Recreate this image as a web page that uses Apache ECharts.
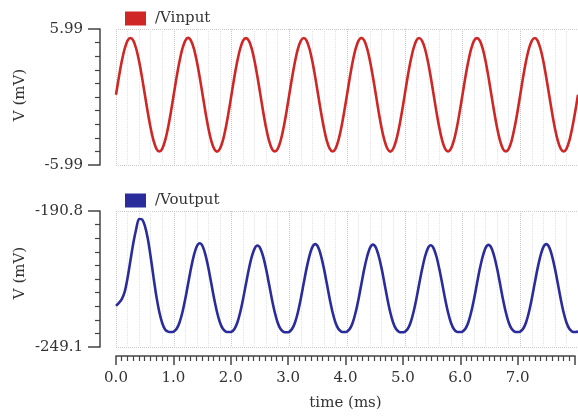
<!DOCTYPE html>
<html>
<head>
<meta charset="utf-8">
<script src="https://cdn.jsdelivr.net/npm/echarts@6/dist/echarts.min.js"></script>
<style>
html,body{margin:0;padding:0;background:#fff;}
#chart{width:578px;height:416px;}
</style>
</head>
<body>
<div id="chart"></div>
<script>
// time samples (ms)
var time = [
0,0.05,0.1,0.15,0.2,0.25,0.3,0.35,0.4,0.45,0.5,0.55,0.6,0.65,0.7,0.75,0.8,0.85,0.9,0.95,
1,1.05,1.1,1.15,1.2,1.25,1.3,1.35,1.4,1.45,1.5,1.55,1.6,1.65,1.7,1.75,1.8,1.85,1.9,1.95,
2,2.05,2.1,2.15,2.2,2.25,2.3,2.35,2.4,2.45,2.5,2.55,2.6,2.65,2.7,2.75,2.8,2.85,2.9,2.95,
3,3.05,3.1,3.15,3.2,3.25,3.3,3.35,3.4,3.45,3.5,3.55,3.6,3.65,3.7,3.75,3.8,3.85,3.9,3.95,
4,4.05,4.1,4.15,4.2,4.25,4.3,4.35,4.4,4.45,4.5,4.55,4.6,4.65,4.7,4.75,4.8,4.85,4.9,4.95,
5,5.05,5.1,5.15,5.2,5.25,5.3,5.35,5.4,5.45,5.5,5.55,5.6,5.65,5.7,5.75,5.8,5.85,5.9,5.95,
6,6.05,6.1,6.15,6.2,6.25,6.3,6.35,6.4,6.45,6.5,6.55,6.6,6.65,6.7,6.75,6.8,6.85,6.9,6.95,
7,7.05,7.1,7.15,7.2,7.25,7.3,7.35,7.4,7.45,7.5,7.55,7.6,7.65,7.7,7.75,7.8,7.85,7.9,7.95,
8
];

// /Vinput (mV)
var vinput = [
0.2,1.75,3.14,4.25,4.96,5.2,4.96,4.25,3.14,1.75,0.2,-1.35,-2.74,-3.85,-4.56,-4.8,-4.56,-3.85,-2.74,-1.35,
0.22,1.77,3.15,4.26,4.97,5.21,4.95,4.24,3.12,1.73,0.19,-1.36,-2.75,-3.86,-4.57,-4.81,-4.55,-3.84,-2.73,-1.34,
0.21,1.76,3.14,4.25,4.96,5.19,4.96,4.26,3.15,1.76,0.21,-1.34,-2.74,-3.85,-4.56,-4.79,-4.56,-3.86,-2.75,-1.36,
0.2,1.74,3.13,4.24,4.95,5.2,4.97,4.25,3.14,1.75,0.2,-1.35,-2.73,-3.84,-4.55,-4.8,-4.57,-3.85,-2.74,-1.35,
0.19,1.75,3.15,4.26,4.96,5.21,4.96,4.24,3.13,1.74,0.2,-1.36,-2.75,-3.85,-4.56,-4.81,-4.56,-3.84,-2.73,-1.34,
0.21,1.76,3.14,4.25,4.97,5.2,4.95,4.25,3.14,1.76,0.21,-1.34,-2.74,-3.86,-4.57,-4.8,-4.55,-3.85,-2.75,-1.35,
0.2,1.75,3.13,4.24,4.96,5.19,4.96,4.26,3.15,1.75,0.19,-1.35,-2.74,-3.85,-4.56,-4.79,-4.56,-3.86,-2.74,-1.36,
0.2,1.76,3.15,4.25,4.95,5.2,4.97,4.25,3.14,1.74,0.2,-1.35,-2.75,-3.84,-4.55,-4.8,-4.57,-3.85,-2.73,-1.35,
0.2
];

// /Voutput (mV)
var voutput = [
-231.5,-230.2,-228.6,-225.5,-219.5,-212.0,-204.5,-198.5,-194.2,-194.4,-197.2,-202.6,-210.4,-219.2,-227.5,-234.1,-238.8,-241.6,-242.5,-242.7,
-242.5,-241.3,-238.6,-234.2,-228.4,-221.8,-215.2,-209.7,-205.9,-204.6,-205.9,-209.7,-215.2,-221.8,-228.4,-234.2,-238.6,-241.3,-242.5,-242.7,
-242.6,-241.4,-238.7,-234.3,-228.6,-222.1,-215.8,-210.5,-206.9,-205.6,-206.9,-210.5,-215.8,-222.1,-228.6,-234.3,-238.7,-241.4,-242.6,-242.8,
-242.6,-241.3,-238.6,-234.2,-228.4,-221.8,-215.4,-210.0,-206.3,-205.0,-206.3,-210.0,-215.4,-221.8,-228.4,-234.2,-238.6,-241.3,-242.5,-242.7,
-242.5,-241.3,-238.6,-234.2,-228.5,-222.0,-215.5,-210.2,-206.5,-205.2,-206.5,-210.2,-215.5,-222.0,-228.5,-234.3,-238.7,-241.4,-242.6,-242.8,
-242.6,-241.4,-238.7,-234.3,-228.6,-222.1,-215.8,-210.4,-206.8,-205.5,-206.8,-210.4,-215.8,-222.1,-228.6,-234.3,-238.7,-241.4,-242.6,-242.7,
-242.5,-241.3,-238.6,-234.2,-228.5,-222.0,-215.6,-210.3,-206.6,-205.3,-206.6,-210.3,-215.6,-222.0,-228.5,-234.2,-238.6,-241.3,-242.5,-242.7,
-242.5,-241.3,-238.6,-234.2,-228.4,-221.8,-215.4,-210.0,-206.3,-205.0,-206.3,-210.0,-215.4,-221.8,-228.4,-234.2,-238.6,-241.3,-242.5,-242.7,
-242.5
];

var xTicks = [0, 1, 2, 3, 4, 5, 6, 7, 8];
var vinRange = [-5.99, 5.99];
var voutRange = [-249.1, -190.8];
var seriesNames = ['/Vinput', '/Voutput'];
var colors = ['#cf2626', '#2b2c9c'];

var FONT = 'DejaVu Serif';
var TXT = '#333';

function pairs(xs, ys) { return xs.map(function (x, i) { return [x, ys[i]]; }); }

function plotX(gi) {
  return {
    type: 'value', gridIndex: gi, min: xTicks[0], max: xTicks[xTicks.length - 1], interval: 1,
    axisLine: { show: false }, axisTick: { show: false }, axisLabel: { show: false },
    splitLine: { show: true, lineStyle: { type: 'dotted', color: '#c8c8c8', width: 1 } },
    minorTick: { show: false, splitNumber: 5 },
    minorSplitLine: { show: true, lineStyle: { type: 'dotted', color: '#e2e2e2', width: 1 } }
  };
}

function hiddenX(gi) {
  return { type: 'value', gridIndex: gi, min: 0, max: 1, show: false };
}

// the y axis used by the series: only draws the dotted top/bottom lines
function plotY(gi, range, digits) {
  return {
    type: 'value', gridIndex: gi, min: range[0], max: range[1],
    interval: +(range[1] - range[0]).toFixed(digits),
    axisLine: { show: false }, axisTick: { show: false }, axisLabel: { show: false },
    splitLine: { show: true, lineStyle: { type: 'dotted', color: '#c8c8c8' } }
  };
}

// visible bracket-style y axis in its own narrow grid
function scaleY(gi, range, digits, namePad) {
  return {
    type: 'value', gridIndex: gi, min: range[0], max: range[1],
    interval: +(range[1] - range[0]).toFixed(digits),
    name: 'V (mV)', nameLocation: 'middle', nameGap: 72,
    nameTextStyle: { fontFamily: FONT, fontSize: 15, color: TXT, padding: [0, 0, 0, namePad] },
    axisLine: { show: true, lineStyle: { color: '#444', width: 1.5 } },
    axisTick: { show: true, inside: false, length: 12, lineStyle: { color: '#444', width: 1.5 } },
    minorTick: { show: true, splitNumber: 10, length: 5, lineStyle: { color: '#444', width: 1.2 } },
    axisLabel: {
      margin: 17, fontFamily: FONT, fontSize: 15, color: TXT,
      formatter: function (v) { return (+v).toFixed(digits); }
    },
    splitLine: { show: false }
  };
}

var option = {
  animation: false,
  backgroundColor: '#fff',
  grid: [
    { left: 116, right: 0, top: 29, height: 136 },
    { left: 116, right: 0, top: 211, height: 136 },
    { left: 116, right: 0, top: 355, height: 1 },
    { left: 100, width: 2, top: 29, height: 136 },
    { left: 100, width: 2, top: 211, height: 136 }
  ],
  legend: [
    { data: [seriesNames[0]], left: 120, top: 6, icon: 'rect', itemWidth: 21, itemHeight: 14, selectedMode: false,
      textStyle: { fontFamily: FONT, fontSize: 15, color: TXT, padding: [0, 0, 0, 4] } },
    { data: [seriesNames[1]], left: 120, top: 188, icon: 'rect', itemWidth: 21, itemHeight: 14, selectedMode: false,
      textStyle: { fontFamily: FONT, fontSize: 15, color: TXT, padding: [0, 0, 0, 4] } }
  ],
  xAxis: [
    plotX(0),
    plotX(1),
    {
      type: 'value', gridIndex: 2, min: xTicks[0], max: xTicks[xTicks.length - 1], interval: 1, position: 'bottom',
      name: 'time (ms)', nameLocation: 'middle', nameGap: 40,
      nameTextStyle: { fontFamily: FONT, fontSize: 15, color: TXT },
      axisLine: { show: true, lineStyle: { color: '#444', width: 1.5 } },
      axisTick: { show: true, length: 9, lineStyle: { color: '#444', width: 1.5 } },
      minorTick: { show: true, splitNumber: 10, length: 5, lineStyle: { color: '#444', width: 1.2 } },
      axisLabel: {
        margin: 15, fontFamily: FONT, fontSize: 15, color: TXT,
        formatter: function (v) { return v >= 8 ? '' : (+v).toFixed(1); }
      },
      splitLine: { show: false }
    },
    hiddenX(3),
    hiddenX(4)
  ],
  yAxis: [
    plotY(0, vinRange, 2),
    plotY(1, voutRange, 1),
    { type: 'value', gridIndex: 2, min: 0, max: 1, show: false },
    scaleY(3, vinRange, 2, 4),
    scaleY(4, voutRange, 1, 12)
  ],
  series: [
    { name: seriesNames[0], type: 'line', xAxisIndex: 0, yAxisIndex: 0, data: pairs(time, vinput),
      showSymbol: false, smooth: 0.3, color: colors[0], lineStyle: { width: 2.6, color: colors[0] } },
    { name: seriesNames[1], type: 'line', xAxisIndex: 1, yAxisIndex: 1, data: pairs(time, voutput),
      showSymbol: false, smooth: 0.3, color: colors[1], lineStyle: { width: 2.6, color: colors[1] } }
  ]
};

var chart = echarts.init(document.getElementById('chart'), null, { renderer: 'canvas' });
chart.setOption(option);
</script>
</body>
</html>
